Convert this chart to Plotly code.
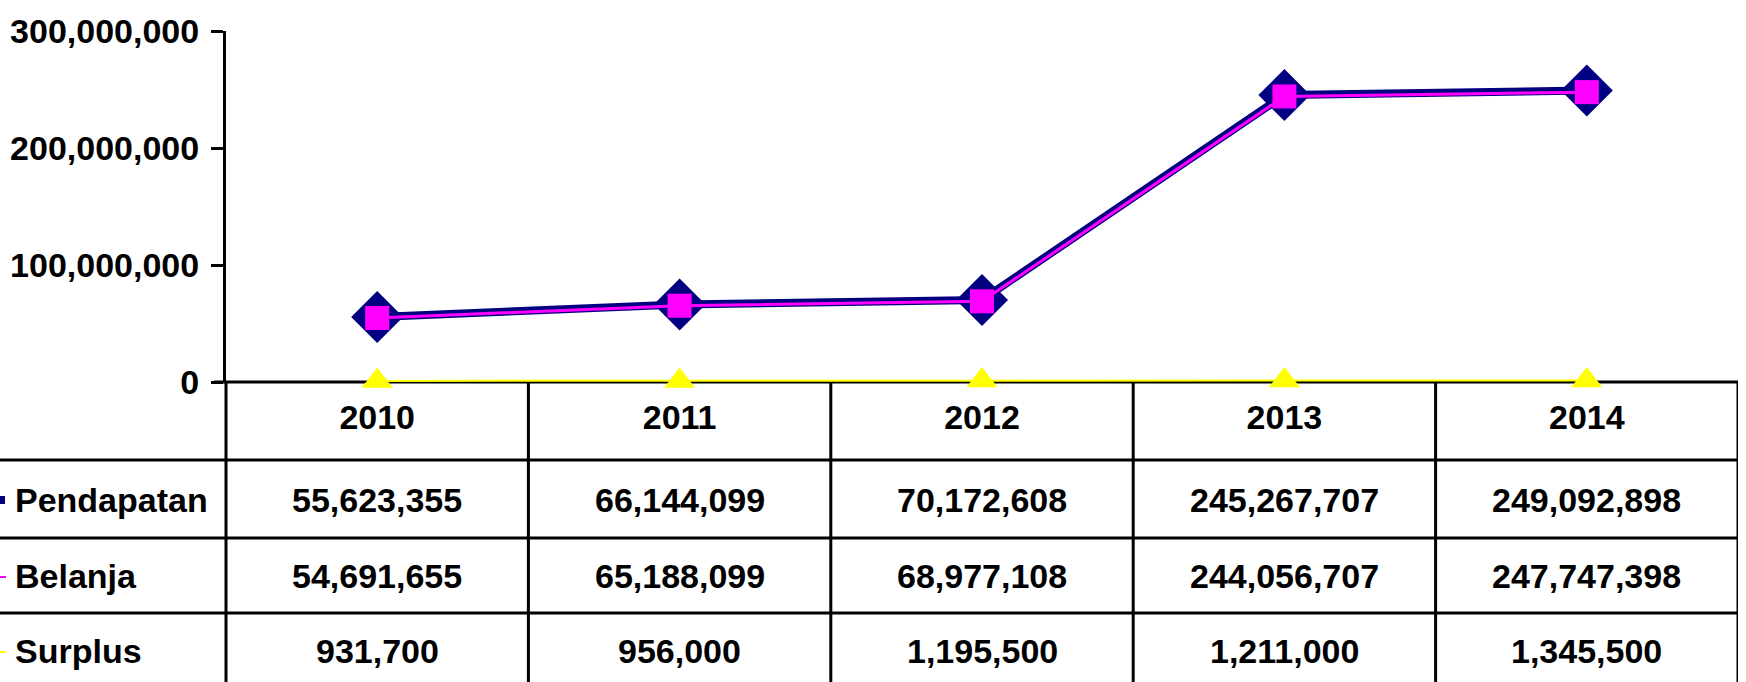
import plotly.graph_objects as go

years = ["2010", "2011", "2012", "2013", "2014"]
pendapatan = [55623355, 66144099, 70172608, 245267707, 249092898]
belanja = [54691655, 65188099, 68977108, 244056707, 247747398]
surplus = [931700, 956000, 1195500, 1211000, 1345500]
series_names = ["Pendapatan", "Belanja", "Surplus"]
y_ticks = [0, 100000000, 200000000, 300000000]

W, H = 1746, 682
L, R, T, B = 226, 8, 31, 300
PW, PH = W - L - R, H - T - B
FONT = "Liberation Sans, Arial, sans-serif"
FS = 34

def py(p):  # pixel y -> paper y
    return (H - B - p) / PH

def px(p):  # pixel x -> paper x
    return (p - L) / PW

xs = list(range(len(years)))
fig = go.Figure()
fig.add_trace(go.Scatter(x=xs, y=surplus, mode="lines+markers", name="Surplus",
                         line=dict(color="#FFFF00", width=2),
                         marker=dict(symbol="triangle-up", size=27, color="#FFFF00"),
                         cliponaxis=False))
fig.add_trace(go.Scatter(x=xs, y=pendapatan, mode="lines+markers", name="Pendapatan",
                         line=dict(color="#000080", width=8),
                         marker=dict(symbol="diamond", size=40, color="#000080"),
                         cliponaxis=False))
fig.add_trace(go.Scatter(x=xs, y=belanja, mode="lines+markers", name="Belanja",
                         line=dict(color="#FF00FF", width=3),
                         marker=dict(symbol="square", size=24, color="#FF00FF"),
                         cliponaxis=False))

shapes = []
lw = 3
row_lines = [382, 460, 538, 613]
for i, yy in enumerate(row_lines):
    x0 = px(214) if i == 0 else px(0)
    shapes.append(dict(type="line", xref="paper", yref="paper", x0=x0, x1=px(1738),
                       y0=py(yy), y1=py(yy), line=dict(color="black", width=lw), layer="below"))
shapes.append(dict(type="line", xref="paper", yref="paper", x0=0, x1=0,
                   y0=py(382), y1=py(690), line=dict(color="black", width=lw), layer="below"))
for k in range(len(years)):
    shapes.append(dict(type="line", xref="x", yref="paper", x0=k + 0.5, x1=k + 0.5,
                       y0=py(382), y1=py(690), line=dict(color="black", width=lw), layer="below"))

annotations = []
row_centers = [500, 576, 651]
row_vals = [pendapatan, belanja, surplus]
colors = ["#000080", "#FF00FF", "#FFFF00"]
for r, (name, vals, yc, col) in enumerate(zip(series_names, row_vals, row_centers, colors)):
    annotations.append(dict(text=name, xref="paper", yref="paper", x=px(13), y=py(yc),
                            xanchor="left", yanchor="middle", showarrow=False,
                            font=dict(family=FONT, size=FS, color="black", weight="bold")))
    if r == 0:
        shapes.append(dict(type="rect", xref="paper", yref="paper", x0=px(0), x1=px(5),
                           y0=py(yc - 4), y1=py(yc + 4), fillcolor=col, line=dict(width=0)))
    else:
        shapes.append(dict(type="line", xref="paper", yref="paper", x0=px(0), x1=px(6),
                           y0=py(yc + 1), y1=py(yc + 1), line=dict(color=col, width=2)))
    for k, v in enumerate(vals):
        annotations.append(dict(text=f"{v:,}", xref="x", yref="paper", x=k, y=py(yc),
                                xanchor="center", yanchor="middle", showarrow=False,
                                font=dict(family=FONT, size=FS, color="black", weight="bold")))

fig.update_layout(
    width=W, height=H,
    margin=dict(l=L, r=R, t=T, b=B),
    paper_bgcolor="white", plot_bgcolor="white",
    showlegend=False,
    shapes=shapes, annotations=annotations,
    xaxis=dict(range=[-0.5, len(years) - 0.5], tickvals=xs, ticktext=years,
               showgrid=False, zeroline=False, showline=False, ticks="",
               automargin=False, ticklabelstandoff=12,
               tickfont=dict(family=FONT, size=FS, color="black", weight="bold")),
    yaxis=dict(range=[0, 300000000], tickvals=y_ticks, tickformat=",d",
               showgrid=False, zeroline=False, showline=True, linecolor="black", linewidth=lw,
               ticks="outside", ticklen=12, tickwidth=lw, tickcolor="black",
               automargin=False, ticklabelstandoff=5,
               tickfont=dict(family=FONT, size=FS, color="black", weight="bold")),
)
fig.write_html("out.html")
